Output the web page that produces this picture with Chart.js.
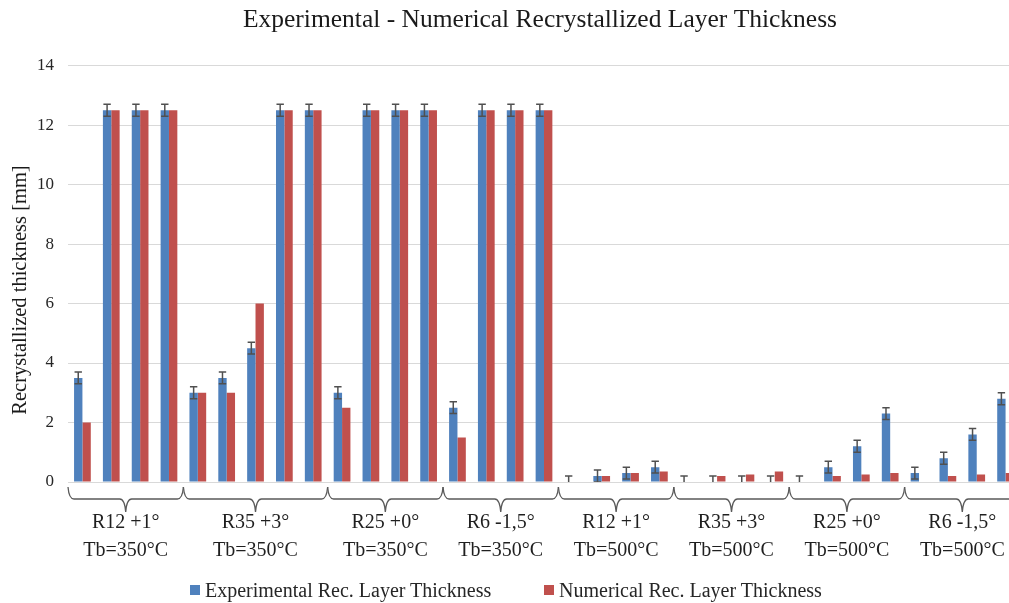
<!DOCTYPE html>
<html>
<head>
<meta charset="utf-8">
<title>Experimental - Numerical Recrystallized Layer Thickness</title>
<script src="https://cdn.jsdelivr.net/npm/chart.js@4.4.1/dist/chart.umd.min.js"></script>
<style>
    body { margin: 0; background: #fff; overflow: hidden; }
    #wrap { position: relative; width: 1080px; height: 603px; }
    .legend-item {
        position: absolute; top: 580px; height: 20px;
        display: flex; align-items: center;
        font: 20px "Liberation Serif", "Times New Roman", serif;
        color: #262626; white-space: nowrap;
    }
    .legend-item i { display: inline-block; width: 10px; height: 10px; margin-right: 5px; }
</style>
</head>
<body>
<div id="wrap">
    <canvas id="myChart" width="1080" height="603"></canvas>
    <div class="legend-item" style="left:190px"><i style="background:#4f81bd"></i>Experimental Rec. Layer Thickness</div>
    <div class="legend-item" style="left:544px"><i style="background:#c0504d"></i>Numerical Rec. Layer Thickness</div>
</div>
<script>
// groups on the category axis (two label lines each) and how many bar pairs they hold
var groupLabels = [
    ['R12 +1°', 'Tb=350°C'],
    ['R35 +3°', 'Tb=350°C'],
    ['R25 +0°', 'Tb=350°C'],
    ['R6 -1,5°', 'Tb=350°C'],
    ['R12 +1°', 'Tb=500°C'],
    ['R35 +3°', 'Tb=500°C'],
    ['R25 +0°', 'Tb=500°C'],
    ['R6 -1,5°', 'Tb=500°C']
];
var groupSizes = [4, 5, 4, 4, 4, 4, 4, 4];

var experimental = [3.5, 12.5, 12.5, 12.5, 3.0, 3.5, 4.5, 12.5, 12.5, 3.0, 12.5, 12.5, 12.5, 2.5, 12.5, 12.5, 12.5,
    0, 0.2, 0.3, 0.5, 0, 0, 0, 0, 0, 0.5, 1.2, 2.3, 0.3, 0.8, 1.6, 2.8];
var experimentalError = [0.2, 0.2, 0.2, 0.2, 0.2, 0.2, 0.2, 0.2, 0.2, 0.2, 0.2, 0.2, 0.2, 0.2, 0.2, 0.2, 0.2,
    0.2, 0.2, 0.2, 0.2, 0.2, 0.2, 0.2, 0.2, 0.2, 0.2, 0.2, 0.2, 0.2, 0.2, 0.2, 0.2];
var numerical = [2.0, 12.5, 12.5, 12.5, 3.0, 3.0, 6.0, 12.5, 12.5, 2.5, 12.5, 12.5, 12.5, 1.5, 12.5, 12.5, 12.5,
    0, 0.2, 0.3, 0.35, 0, 0.2, 0.25, 0.35, 0, 0.2, 0.25, 0.3, 0, 0.2, 0.25, 0.3];

var yTicks = { min: 0, max: 14, step: 2 };
var yTitle = 'Recrystallized thickness [mm]';

// one category per bar pair, named after its group
var categories = [];
groupLabels.forEach(function (lines, g) {
    for (var k = 0; k < groupSizes[g]; k++) {
        categories.push(lines.join(' ') + ' #' + (k + 1));
    }
});

var serif = '"Liberation Serif", "Times New Roman", serif';

// error bars on the experimental series
var errorBarPlugin = {
    id: 'errorBars',
    afterDatasetsDraw: function (chart) {
        var ctx = chart.ctx;
        var area = chart.chartArea;
        var y = chart.scales.y;
        var meta = chart.getDatasetMeta(0);
        ctx.save();
        ctx.beginPath();
        ctx.rect(area.left, area.top, area.right - area.left, area.bottom - area.top);
        ctx.clip();
        ctx.strokeStyle = '#505050';
        ctx.lineWidth = 1.5;
        meta.data.forEach(function (bar, i) {
            var top = y.getPixelForValue(experimental[i] + experimentalError[i]);
            var bot = y.getPixelForValue(experimental[i] - experimentalError[i]);
            var cx = bar.x;
            ctx.beginPath();
            ctx.moveTo(cx, top); ctx.lineTo(cx, bot);
            ctx.moveTo(cx - 3.7, top); ctx.lineTo(cx + 3.7, top);
            ctx.moveTo(cx - 3.7, bot); ctx.lineTo(cx + 3.7, bot);
            ctx.stroke();
        });
        ctx.restore();
    }
};

// braces and two-line labels under each group, plus the y title
var groupBracePlugin = {
    id: 'groupBraces',
    afterDraw: function (chart) {
        var ctx = chart.ctx;
        var x = chart.scales.x;
        var base = chart.chartArea.bottom;
        var half = (x.getPixelForValue(1) - x.getPixelForValue(0)) / 2;
        var yTop = base + 5, yLine = base + 17, yTip = base + 30;
        var start = 0;
        ctx.save();
        ctx.strokeStyle = '#5a5a5a';
        ctx.lineWidth = 1.3;
        ctx.fillStyle = '#1f1f1f';
        ctx.font = '20px ' + serif;
        ctx.textAlign = 'center';
        ctx.textBaseline = 'middle';
        groupLabels.forEach(function (lines, g) {
            var x0 = x.getPixelForValue(start) - half;
            var x1 = x.getPixelForValue(start + groupSizes[g] - 1) + half;
            start += groupSizes[g];
            var mid = (x0 + x1) / 2;
            ctx.beginPath();
            ctx.moveTo(x0, yTop);
            ctx.quadraticCurveTo(x0 + 1, yLine, x0 + 6, yLine);
            ctx.lineTo(mid - 6, yLine);
            ctx.quadraticCurveTo(mid - 1, yLine, mid, yTip);
            ctx.moveTo(mid, yTip);
            ctx.quadraticCurveTo(mid + 1, yLine, mid + 6, yLine);
            ctx.lineTo(x1 - 6, yLine);
            ctx.quadraticCurveTo(x1 - 1, yLine, x1, yTop);
            ctx.stroke();
            ctx.fillText(lines[0], mid, base + 41);
            ctx.fillText(lines[1], mid, base + 69);
        });

        // y axis title, a little below the plot's middle as in the original
        ctx.translate(21, 290);
        ctx.rotate(-Math.PI / 2);
        ctx.font = '20.5px ' + serif;
        ctx.fillStyle = '#1a1a1a';
        ctx.fillText(yTitle, 0, 0);
        ctx.restore();
    }
};

var ctx = document.getElementById('myChart').getContext('2d');
var myChart = new Chart(ctx, {
    type: 'bar',
    data: {
        labels: categories,
        datasets: [{
            label: 'Experimental Rec. Layer Thickness',
            data: experimental,
            backgroundColor: '#4f81bd',
            categoryPercentage: 0.58,
            barPercentage: 1.0
        }, {
            label: 'Numerical Rec. Layer Thickness',
            data: numerical,
            backgroundColor: '#c0504d',
            categoryPercentage: 0.58,
            barPercentage: 1.0
        }]
    },
    options: {
        responsive: false,
        animation: false,
        layout: { padding: 0 },
        plugins: {
            legend: { display: false },
            tooltip: { enabled: false },
            title: {
                display: true,
                text: 'Experimental - Numerical Recrystallized Layer Thickness',
                color: '#1a1a1a',
                font: { family: serif, size: 25.5, weight: 'normal' },
                padding: { top: 5, bottom: 30 }
            }
        },
        scales: {
            x: {
                offset: true,
                grid: { display: false },
                border: { display: false },
                ticks: { display: false },
                afterFit: function (scale) { scale.height = 121; }
            },
            y: {
                min: yTicks.min,
                max: yTicks.max,
                ticks: {
                    stepSize: yTicks.step,
                    color: '#262626',
                    padding: 14,
                    font: { family: serif, size: 17 }
                },
                grid: { color: '#d9d9d9', drawTicks: false },
                border: { display: false },
                afterFit: function (scale) { scale.width = 68; }
            },
            // empty right-hand axis, only keeps room so the plot ends where the original does
            yRight: {
                position: 'right',
                min: yTicks.min,
                max: yTicks.max,
                grid: { display: false },
                border: { display: false },
                ticks: { display: false },
                afterFit: function (scale) { scale.width = 60; }
            }
        }
    },
    plugins: [errorBarPlugin, groupBracePlugin]
});
</script>
</body>
</html>
